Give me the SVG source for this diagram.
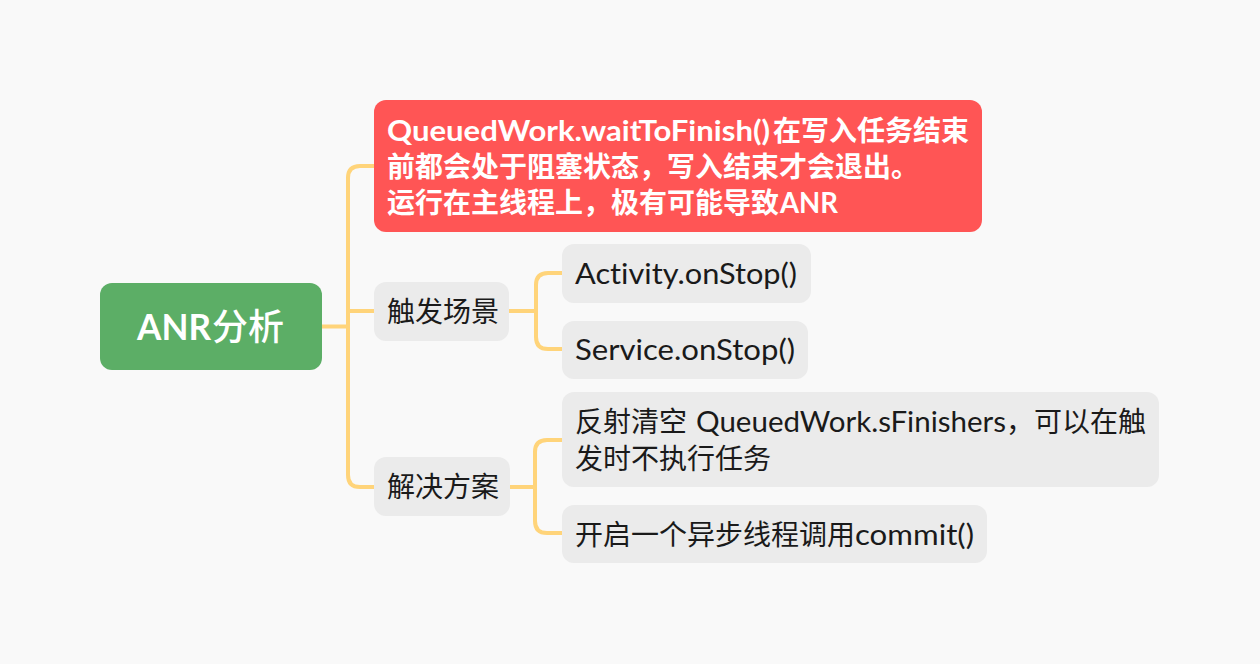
<svg xmlns="http://www.w3.org/2000/svg" width="1260" height="664" viewBox="0 0 1260 664">
<style>
.bg{fill:#f9f9f9}
.con{fill:none;stroke:#ffd47a;stroke-width:4;stroke-linecap:round;stroke-linejoin:round}
.grey{fill:#ebebeb}
text{font-variant-ligatures:none}
.t{font-family:Lato,"Noto Sans CJK SC",sans-serif;font-size:28px;fill:#1a1a1a}
.w{font-family:Lato,"Noto Sans CJK SC",sans-serif;font-size:28px;fill:#ffffff;font-weight:700}
.root{font-family:Lato,"Noto Sans CJK SC",sans-serif;font-size:36px;fill:#ffffff;font-weight:500}
</style>
<rect class="bg" x="0" y="0" width="1260" height="664"/>
<g id="connectors">
<path class="con" d="M322,326.5 H348"/>
<path class="con" d="M374,166 H360 Q348,166 348,178 V475 Q348,487 360,487 H374"/>
<path class="con" d="M348,311 H374"/>
<path class="con" d="M509,311 H536"/>
<path class="con" d="M562,273 H548 Q536,273 536,285 V337 Q536,349 548,349 H562"/>
<path class="con" d="M510,487 H535"/>
<path class="con" d="M562,440 H547 Q535,440 535,452 V521 Q535,533 547,533 H562"/>
</g>
<g id="root">
<rect x="100" y="283" width="222" height="87" rx="12" fill="#5cae66"/>
<text class="root" y="340"><tspan x="137" textLength="74" lengthAdjust="spacingAndGlyphs" font-weight="700">ANR</tspan><tspan x="212">分析</tspan></text>
</g>
<g id="node-waitToFinish">
<rect x="374" y="100" width="608" height="132" rx="12" fill="#ff5555"/>
<text class="w" y="141"><tspan x="387" textLength="383" lengthAdjust="spacingAndGlyphs">QueuedWork.waitToFinish()</tspan><tspan x="773">在写入任务结束</tspan></text>
<text class="w" x="387" y="177">前都会处于阻塞状态，写入结束才会退出。</text>
<text class="w" y="213"><tspan x="387">运行在主线程上，极有可能导致</tspan><tspan x="780" textLength="58" lengthAdjust="spacingAndGlyphs">ANR</tspan></text>
</g>
<g id="node-trigger">
<rect class="grey" x="374" y="282" width="135" height="59" rx="12"/>
<text class="t" x="387" y="322">触发场景</text>
</g>
<g id="node-activity">
<rect class="grey" x="562" y="244" width="249" height="59" rx="12"/>
<text class="t" x="575" y="284" textLength="222" lengthAdjust="spacingAndGlyphs">Activity.onStop()</text>
</g>
<g id="node-service">
<rect class="grey" x="562" y="321" width="246" height="58" rx="12"/>
<text class="t" x="575" y="360" textLength="220" lengthAdjust="spacingAndGlyphs">Service.onStop()</text>
</g>
<g id="node-solution">
<rect class="grey" x="374" y="457" width="136" height="59" rx="12"/>
<text class="t" x="387" y="497">解决方案</text>
</g>
<g id="node-reflect">
<rect class="grey" x="562" y="392" width="597" height="95" rx="12"/>
<text class="t" y="432"><tspan x="575">反射清空</tspan><tspan x="696" textLength="310" lengthAdjust="spacingAndGlyphs">QueuedWork.sFinishers</tspan><tspan x="1006">，可以在触</tspan></text>
<text class="t" x="575" y="469">发时不执行任务</text>
</g>
<g id="node-async">
<rect class="grey" x="562" y="505" width="425" height="58" rx="12"/>
<text class="t" y="545"><tspan x="575">开启一个异步线程调用</tspan><tspan x="855" textLength="119" lengthAdjust="spacingAndGlyphs">commit()</tspan></text>
</g>
</svg>
